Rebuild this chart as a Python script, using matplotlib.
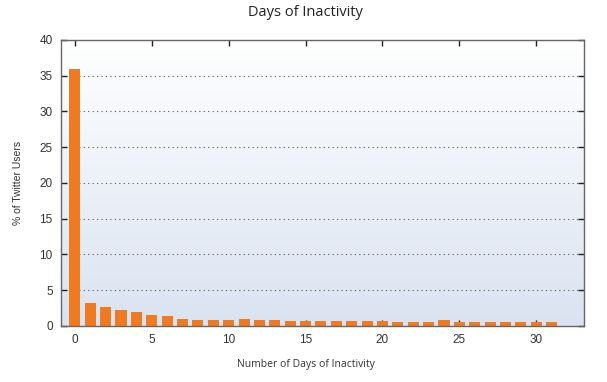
import matplotlib
matplotlib.use('Agg')
from matplotlib import pyplot as plt
from matplotlib.colors import LinearSegmentedColormap
import numpy as np

# Datos
dias = list(range(32))
porcentaje = [36.0, 3.2, 2.6, 2.3, 1.9, 1.6, 1.35, 1.0, 0.9, 0.9, 0.9, 0.95,
              0.8, 0.8, 0.7, 0.7, 0.7, 0.7, 0.7, 0.7, 0.7, 0.6, 0.6, 0.6,
              0.8, 0.6, 0.6, 0.6, 0.6, 0.6, 0.6, 0.6]
ticks_x = [0, 5, 10, 15, 20, 25, 30]
ticks_y = [0, 5, 10, 15, 20, 25, 30, 35, 40]

fig = plt.figure(figsize=(6.07, 3.82), dpi=100)
ax = fig.add_axes([0.1005, 0.1466, 0.8616, 0.7487])

# Fondo degradado (blanco arriba, celeste abajo)
cmap = LinearSegmentedColormap.from_list('fondo', ['#dae3f1', '#ffffff'])
grad = np.linspace(0, 1, 256).reshape(-1, 1)
ax.imshow(grad, aspect='auto', cmap=cmap, origin='lower',
          extent=[0, 1, 0, 1], transform=ax.transAxes, zorder=0)

# barras debajo de las marcas de los ejes, encima de la grilla
ax.bar(dias, porcentaje, width=0.72, color='#f07a22', zorder=2)

ax.set_xlim(-0.9, 33.1)
ax.set_ylim(0, 40)
ax.set_xticks(ticks_x)
ax.set_yticks(ticks_y)

for y in ticks_y[1:-1]:
    ax.axhline(y, color='#555555', linestyle=(0, (1, 3)), linewidth=0.8, zorder=1)

ax.tick_params(axis='both', direction='in', length=4, width=1, color='#222222',
               top=True, right=True, labelsize=8.5, labelcolor='#333333', pad=6)
for s in ax.spines.values():
    s.set_color('#666666')
    s.set_linewidth(1.0)
for lab in ax.get_xticklabels() + ax.get_yticklabels():
    lab.set_family('Liberation Sans')

fig.text(0.504, 0.966, 'Days of Inactivity', ha='center', va='center',
         fontsize=10.5, family='Open Sans', color='#222222')
fig.text(0.504, 0.045, 'Number of Days of Inactivity', ha='center', va='center',
         fontsize=7.5, family='Open Sans', color='#333333')
fig.text(0.03, 0.52, '% of Twitter Users', ha='center', va='center',
         rotation=90, fontsize=7.5, family='Liberation Sans', color='#333333')

fig.savefig('out.png', dpi=100)
